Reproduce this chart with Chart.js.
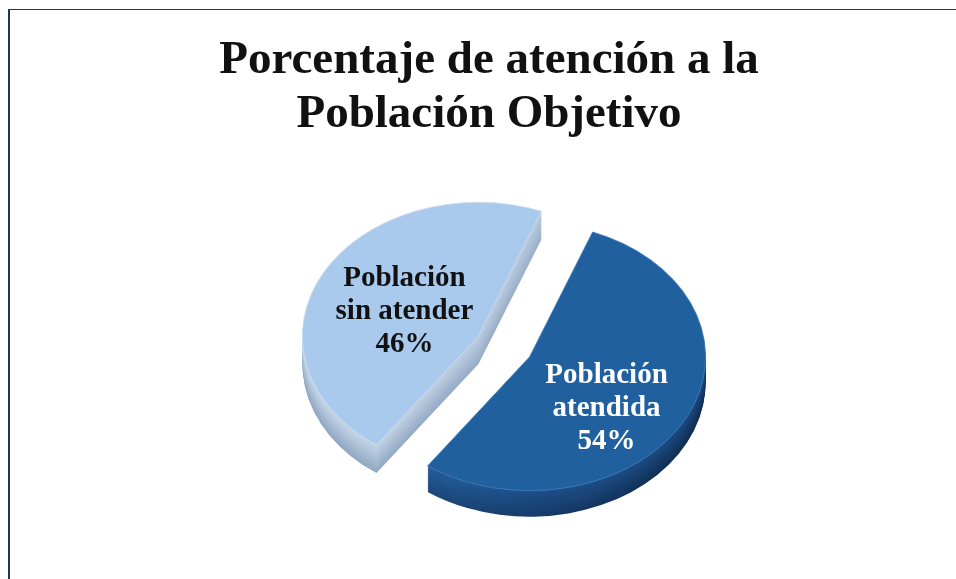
<!DOCTYPE html>
<html>
<head>
<meta charset="utf-8">
<style>
  html, body { margin: 0; padding: 0; background: #fff; overflow: hidden; }
  #frame { position: absolute; left: 8px; top: 9px; width: 948px; height: 570px;
           border-left: 2px solid #1f3560; border-top: 1px solid #1f3560; box-sizing: border-box; }
  canvas { position: absolute; left: 0; top: 0; }
</style>
</head>
<body>
<div id="frame"></div>
<canvas id="pie" width="956" height="579"></canvas>
<script src="https://cdn.jsdelivr.net/npm/chart.js@4"></script>
<script>
const titleLines = ['Porcentaje de atención a la', 'Población Objetivo'];
const labelLines = [['Población', 'atendida'], ['Población', 'sin atender']];
const values = [54, 46];
const faceColors = ['#21609f', '#a9caec'];
const rimColors = ['#3f7dbb', '#cbdbec'];
const labelColors = ['#ffffff', '#111111'];

// tilt of the pie: y squash, where the centre lands, wall height
const tilt = 0.76;
const pieShiftX = 15;
const pieCenterY = 346.5;
const explode = 29;
const wallDepth = [26, 28];
// wall colours left -> right, [top of wall, bottom of wall]
const wallTop = [[[42, 104, 168], [28, 79, 136], [27, 74, 128]], [[201, 217, 234], [190, 207, 226], [178, 196, 216]]];
const wallBottom = [[[29, 80, 134], [22, 60, 106], [15, 42, 78]], [[142, 166, 194], [150, 172, 198], [160, 180, 204]]];
// label centre relative to the slice tip
const labelShift = [[77, 52], [-74, -25]];

function mix(a, b, t) {
  return 'rgb(' + a.map((v, i) => Math.round(v + (b[i] - v) * t)).join(',') + ')';
}

const tiltPlugin = {
  id: 'tiltPlugin',
  // pull the slices apart along their middle angle
  afterDatasetUpdate(chart, args) {
    chart.getDatasetMeta(args.index).data.forEach((arc) => {
      const mid = (arc.startAngle + arc.endAngle) / 2;
      arc.x += Math.cos(mid) * explode;
      arc.y += Math.sin(mid) * explode;
    });
  },
  beforeDatasetsDraw(chart) {
    const ctx = chart.ctx;
    const arcs = chart.getDatasetMeta(0).data;
    const cy = (chart.chartArea.top + chart.chartArea.bottom) / 2;
    ctx.save();
    ctx.translate(pieShiftX, pieCenterY);
    ctx.scale(1, tilt);
    ctx.translate(0, -cy);
    // walls: stack the slice shape downwards, bottom layer first
    arcs.forEach((arc, i) => {
      const minX = arc.x - arc.outerRadius;
      const maxX = arc.x + arc.outerRadius;
      for (let d = wallDepth[i]; d > 0; d--) {
        const t = d / wallDepth[i];
        const grad = ctx.createLinearGradient(minX, 0, maxX, 0);
        [0, 0.5, 1].forEach((stop, k) => grad.addColorStop(stop, mix(wallTop[i][k], wallBottom[i][k], t)));
        ctx.fillStyle = grad;
        ctx.beginPath();
        ctx.moveTo(arc.x, arc.y + d / tilt);
        ctx.arc(arc.x, arc.y + d / tilt, arc.outerRadius, arc.startAngle, arc.endAngle);
        ctx.closePath();
        ctx.fill();
      }
    });
  },
  afterDatasetsDraw(chart) {
    const ctx = chart.ctx;
    ctx.restore();
    const arcs = chart.getDatasetMeta(0).data;
    const cy = (chart.chartArea.top + chart.chartArea.bottom) / 2;
    ctx.save();
    ctx.font = 'bold 29px "Liberation Serif"';
    ctx.textAlign = 'center';
    ctx.textBaseline = 'middle';
    arcs.forEach((arc, i) => {
      const x = arc.x + pieShiftX + labelShift[i][0];
      const y = pieCenterY + (arc.y - cy) * tilt + labelShift[i][1];
      ctx.fillStyle = labelColors[i];
      const lines = labelLines[i].concat(values[i] + '%');
      lines.forEach((line, k) => ctx.fillText(line, x, y + (k - 1) * 33));
    });
    ctx.restore();
  }
};

new Chart(document.getElementById('pie'), {
  type: 'pie',
  data: {
    labels: labelLines.map((l) => l.join(' ')),
    datasets: [
      {
        data: values,
        backgroundColor: faceColors,
        borderColor: rimColors,
        borderWidth: 1,
      },
    ],
  },
  options: {
    responsive: false,
    animation: false,
    rotation: 21,
    radius: 176,
    layout: { padding: { left: 22 } },
    plugins: {
      legend: { display: false },
      tooltip: { enabled: false },
      title: {
        display: true,
        text: titleLines,
        color: '#111111',
        font: { family: '"Liberation Serif"', size: 47, weight: 'bold', lineHeight: 1.15 },
        padding: { top: 34, bottom: 10 },
      },
    },
  },
  plugins: [tiltPlugin],
});
</script>
</body>
</html>
